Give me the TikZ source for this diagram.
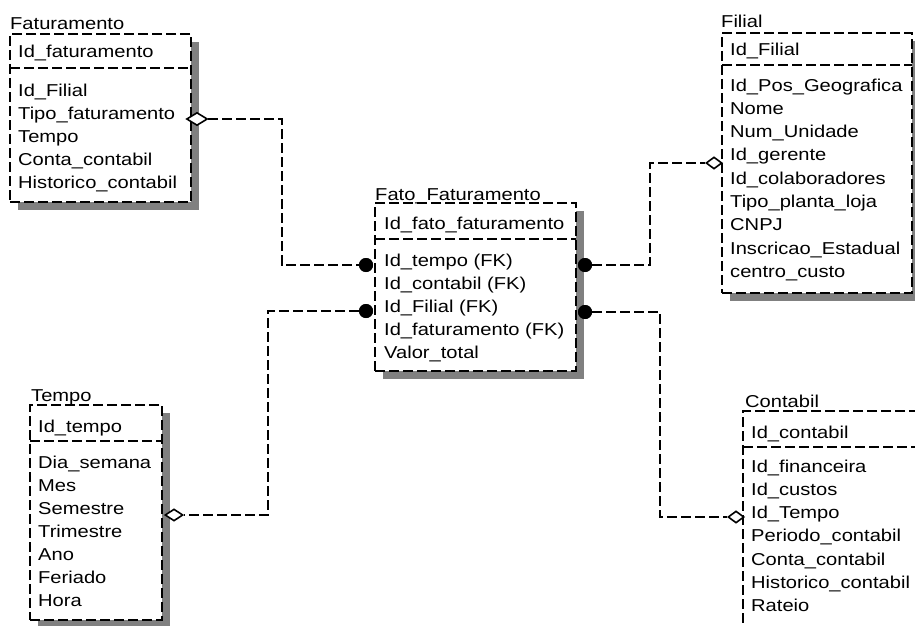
\documentclass[tikz,border=0pt]{standalone}
\usepackage{fontspec}
\setmainfont{Liberation Sans}[FakeStretch=1.17]
\usetikzlibrary{shapes.geometric}

\begin{document}
\begin{tikzpicture}[x=1pt,y=-1pt,
  font=\fontsize{17.2}{20}\selectfont,
  boxshade/.style={fill=black!50, draw=none},
  tbl/.style={draw=black, fill=white, line width=1.7pt, dash pattern=on 10pt off 4pt,
    inner sep=0pt, outer sep=0pt, anchor=north west},
  sepline/.style={draw=black, line width=1.7pt, dash pattern=on 10pt off 4pt},
  txt/.style={anchor=base west, inner sep=0pt},
  link/.style={draw=black, line width=1.7pt, dash pattern=on 10pt off 4pt},
  fkdot/.style={circle, fill=black, inner sep=0pt, minimum size=14pt},
  optend/.style={diamond, draw=black, fill=white, line width=1.6pt, inner sep=0pt,
    minimum width=18pt, minimum height=12pt},
]
\begin{scope}
\clip (0,0) rectangle (915,626);

% ---------- shadows ----------
\fill[boxshade] (18,42) rectangle (199,210);
\fill[boxshade] (383,211) rectangle (584,379);
\fill[boxshade] (730,41) rectangle (920,301);
\fill[boxshade] (38,413) rectangle (170,628);

% ---------- Faturamento ----------
\node[tbl, minimum width=181pt, minimum height=168pt] (fat) at (10,34) {};
\draw[sepline] (10,68) -- (191,68);
\node[txt] (fat-title) at (10,30) {Faturamento};
\node[txt] (fat-key) at (18,58) {Id\_faturamento};
\foreach \t [count=\i from 0] in {Id\_Filial,Tipo\_faturamento,Tempo,Conta\_contabil,Historico\_contabil}
  \node[txt] (fat-r\i) at (18,96+23*\i) {\t};

% ---------- Fato_Faturamento ----------
\node[tbl, minimum width=201pt, minimum height=168pt] (fato) at (375,203) {};
\draw[sepline] (375,239) -- (576,239);
\node[txt] (fato-title) at (375,200) {Fato\_Faturamento};
\node[txt] (fato-key) at (384,229) {Id\_fato\_faturamento};
\foreach \t [count=\i from 0] in {Id\_tempo (FK),Id\_contabil (FK),Id\_Filial (FK),Id\_faturamento (FK),Valor\_total}
  \node[txt] (fato-r\i) at (384,266+23*\i) {\t};

% ---------- Filial ----------
\node[tbl, minimum width=190pt, minimum height=260pt] (fil) at (722,33) {};
\draw[sepline] (722,65) -- (912,65);
\node[txt] (fil-title) at (721,28) {Filial};
\node[txt] (fil-key) at (730,56) {Id\_Filial};
\foreach \t [count=\i from 0] in {Id\_Pos\_Geografica,Nome,Num\_Unidade,Id\_gerente,Id\_colaboradores,Tipo\_planta\_loja,CNPJ,Inscricao\_Estadual,centro\_custo}
  \node[txt] (fil-r\i) at (730,91+23.3*\i) {\t};

% ---------- Tempo ----------
\node[tbl, minimum width=132pt, minimum height=215pt] (tmp) at (30,405) {};
\draw[sepline] (30,441) -- (162,441);
\node[txt] (tmp-title) at (31,401) {Tempo};
\node[txt] (tmp-key) at (38,432) {Id\_tempo};
\foreach \t [count=\i from 0] in {Dia\_semana,Mes,Semestre,Trimestre,Ano,Feriado,Hora}
  \node[txt] (tmp-r\i) at (38,468+23*\i) {\t};

% ---------- Contabil ----------
\node[tbl, minimum width=250pt, minimum height=250pt] (con) at (743,411) {};
\draw[sepline] (743,447) -- (993,447);
\node[txt] (con-title) at (745,407) {Contabil};
\node[txt] (con-key) at (751,438) {Id\_contabil};
\foreach \t [count=\i from 0] in {Id\_financeira,Id\_custos,Id\_Tempo,Periodo\_contabil,Conta\_contabil,Historico\_contabil,Rateio}
  \node[txt] (con-r\i) at (751,472+23.3*\i) {\t};

% ---------- relationship ends ----------
\node[fkdot] (dot1) at (366,265) {};
\node[fkdot] (dot2) at (366,311) {};
\node[fkdot] (dot3) at (585,265) {};
\node[fkdot] (dot4) at (585,312) {};
\node[optend, minimum width=21pt, minimum height=13pt] (fatdia) at (197,119) {};
\node[optend] (tmpdia) at (174,515) {};
\node[optend, minimum width=16pt, minimum height=12pt] (fildia) at (714,163) {};
\node[optend, minimum width=16pt, minimum height=12pt] (condia) at (736,517) {};

% ---------- connectors ----------
\coordinate (b1) at (282,119);
\coordinate (b2) at (268,311);
\coordinate (b3) at (650,265);
\coordinate (b4) at (660,312);
\draw[link] (fatdia.east) -- (b1) |- (dot1);
\draw[link] (dot2) -- (b2) |- (tmpdia.east);
\draw[link] (dot3) -- (b3) |- (fildia.west);
\draw[link] (dot4) -- (b4) |- (condia.west);

% redraw ends on top of the lines
\node[fkdot] at (dot1) {};
\node[fkdot] at (dot2) {};
\node[fkdot] at (dot3) {};
\node[fkdot] at (dot4) {};
\end{scope}
\pgfresetboundingbox
\useasboundingbox (0,0) rectangle (915,626);
\end{tikzpicture}
\end{document}
